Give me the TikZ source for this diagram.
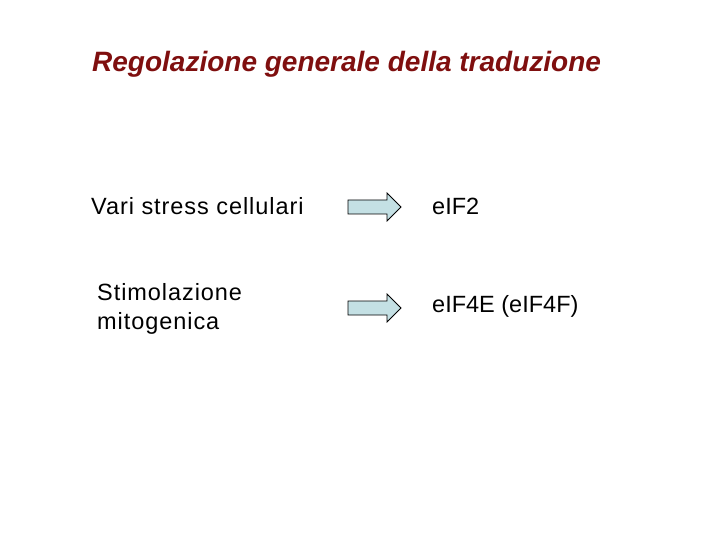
\documentclass[tikz,border=0pt]{standalone}
\usepackage{fontspec}
\setmainfont{Liberation Sans}
\definecolor{tred}{HTML}{7F0F0F}
\definecolor{afill}{HTML}{C4E0E4}
\begin{document}
\begin{tikzpicture}[x=1pt,y=-1pt,
  lbl/.style={anchor=west,inner sep=0,font=\fontsize{23.5}{29}\selectfont,align=left},
  sp/.style={font=\fontsize{23.5}{29}\selectfont\addfontfeature{LetterSpace=4}}, 
  fat/.style={draw=black,fill=afill,line width=0.8pt,line join=miter}]
\useasboundingbox (0,0) rectangle (720,540);
\node[anchor=west,inner sep=0,text=tred,font=\fontsize{28}{32}\bfseries\itshape\selectfont] (title) at (92,64) {Regolazione generale della traduzione};
\node[lbl,sp] (a1) at (91,206) {Vari stress cellulari};
\node[lbl] (b1) at (432,206) {eIF2};
\node[lbl,sp] (a2) at (97,309) {Stimolazione\\mitogenica};
\node[lbl] (b2) at (432,306) {eIF4E (eIF4F)};
\foreach \y/\n in {207/r1,308/r2}{
 \draw[fat] (348,\y-7) -- (387,\y-7) -- (387,\y-14) -- (401,\y) -- (387,\y+14) -- (387,\y+7) -- (348,\y+7) -- cycle;
 \coordinate (\n) at (374,\y);
}
\end{tikzpicture}
\end{document}
